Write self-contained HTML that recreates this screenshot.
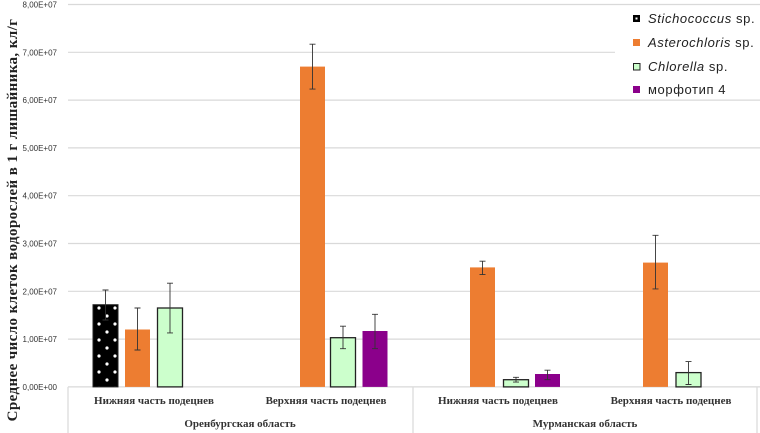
<!DOCTYPE html>
<html><head><meta charset="utf-8"><style>
html,body{margin:0;padding:0;background:#fff;}
svg{display:block;}
</style></head><body>
<svg width="760" height="433" viewBox="0 0 760 433" xmlns="http://www.w3.org/2000/svg">
<defs>
<pattern id="dots" width="16" height="16" patternUnits="userSpaceOnUse" x="93" y="0">
<rect width="16" height="16" fill="#000"/>
<circle cx="6" cy="4" r="1.6" fill="#fff"/>
<circle cx="14" cy="12" r="1.6" fill="#fff"/>
</pattern>
</defs>
<g stroke="#d9d9d9" stroke-width="1.2">
<line x1="68" y1="4.5" x2="760" y2="4.5"/>
<line x1="68" y1="52.3" x2="615" y2="52.3"/>
<line x1="68" y1="100.1" x2="615" y2="100.1"/>
<line x1="68" y1="147.9" x2="760" y2="147.9"/>
<line x1="68" y1="195.7" x2="760" y2="195.7"/>
<line x1="68" y1="243.5" x2="760" y2="243.5"/>
<line x1="68" y1="291.3" x2="760" y2="291.3"/>
<line x1="68" y1="339.1" x2="760" y2="339.1"/>
<line x1="68" y1="386.9" x2="760" y2="386.9"/>
<line x1="68" y1="386.9" x2="68" y2="433"/>
<line x1="413" y1="386.9" x2="413" y2="433"/>
<line x1="757" y1="386.9" x2="757" y2="433"/>
<line x1="615" y1="100.1" x2="760" y2="100.1"/>
</g>
<g font-family="Liberation Sans, sans-serif" font-size="8" fill="#333" text-anchor="end">
<text x="57" y="7.5">8,00E+07</text>
<text x="57" y="55.3">7,00E+07</text>
<text x="57" y="103.1">6,00E+07</text>
<text x="57" y="150.9">5,00E+07</text>
<text x="57" y="198.7">4,00E+07</text>
<text x="57" y="246.5">3,00E+07</text>
<text x="57" y="294.3">2,00E+07</text>
<text x="57" y="342.1">1,00E+07</text>
<text x="57" y="389.9">0,00E+00</text>
</g>
<text transform="translate(17,220) rotate(-90)" text-anchor="middle" font-family="Liberation Serif, serif" font-weight="bold" font-size="15" letter-spacing="0.4" fill="#222">Среднее число клеток  водорослей в 1 г лишайника, кл/г</text>
<g stroke="#222" stroke-width="1">
<rect x="93" y="304.7" width="25" height="82.2" fill="url(#dots)"/>
<rect x="125" y="329.5" width="25" height="57.4" fill="#ed7d31" stroke="none"/>
<rect x="157.5" y="308" width="25" height="78.9" fill="#ccffcc" stroke-width="1.3"/>
<rect x="300" y="66.6" width="25" height="320.3" fill="#ed7d31" stroke="none"/>
<rect x="330.5" y="337.7" width="25" height="49.2" fill="#ccffcc" stroke-width="1.3"/>
<rect x="362.5" y="331" width="25" height="55.9" fill="#8b008b" stroke="none"/>
<rect x="470" y="267.4" width="25" height="119.5" fill="#ed7d31" stroke="none"/>
<rect x="503.5" y="379.7" width="25" height="7.2" fill="#ccffcc" stroke-width="1.3"/>
<rect x="535" y="374" width="25" height="12.9" fill="#8b008b" stroke="none"/>
<rect x="643" y="262.6" width="25" height="124.3" fill="#ed7d31" stroke="none"/>
<rect x="676" y="372.6" width="25" height="14.3" fill="#ccffcc" stroke-width="1.3"/>
</g>
<g stroke="#333" stroke-width="0.9">
<path d="M105.5 290V320M102.5 290H108.5M102.5 320H108.5"/>
<path d="M137.5 308V350M134.5 308H140.5M134.5 350H140.5"/>
<path d="M170 283.2V332.9M167 283.2H173M167 332.9H173"/>
<path d="M312.5 44.2V89.1M309.5 44.2H315.5M309.5 89.1H315.5"/>
<path d="M343 326.2V348.7M340 326.2H346M340 348.7H346"/>
<path d="M375 314.3V348.7M372 314.3H378M372 348.7H378"/>
<path d="M482.5 261.2V274.6M479.5 261.2H485.5M479.5 274.6H485.5"/>
<path d="M516 377.3V382.1M513 377.3H519M513 382.1H519"/>
<path d="M547.5 370.2V379.7M544.5 370.2H550.5M544.5 379.7H550.5"/>
<path d="M655.5 235.3V288.9M652.5 235.3H658.5M652.5 288.9H658.5"/>
<path d="M688.5 361.6V384.5M685.5 361.6H691.5M685.5 384.5H691.5"/>
</g>
<g font-family="Liberation Serif, serif" font-weight="bold" font-size="11" fill="#333" text-anchor="middle">
<text x="154" y="404">Нижняя часть подецнев</text>
<text x="326" y="404">Верхняя часть подецнев</text>
<text x="498" y="404">Нижняя часть подецнев</text>
<text x="671" y="404">Верхняя часть подецнев</text>
<text x="240" y="427">Оренбургская область</text>
<text x="585" y="427">Мурманская область</text>
</g>
<g font-family="Liberation Sans, sans-serif" font-size="13" letter-spacing="0.6" fill="#222">
<rect x="633" y="15" width="7" height="7" fill="#000"/><rect x="635.5" y="17.5" width="2" height="2" fill="#fff"/>
<text x="648" y="23"><tspan font-style="italic">Stichococcus</tspan> sp.</text>
<rect x="633" y="39" width="7" height="7" fill="#ed7d31"/>
<text x="648" y="47"><tspan font-style="italic">Asterochloris</tspan> sp.</text>
<rect x="633.5" y="63.5" width="6.5" height="6.5" fill="#ccffcc" stroke="#222" stroke-width="1"/>
<text x="648" y="71"><tspan font-style="italic">Chlorella</tspan> sp.</text>
<rect x="633" y="86" width="7" height="7" fill="#8b008b"/>
<text x="648" y="94">морфотип 4</text>
</g>
</svg>
</body></html>
